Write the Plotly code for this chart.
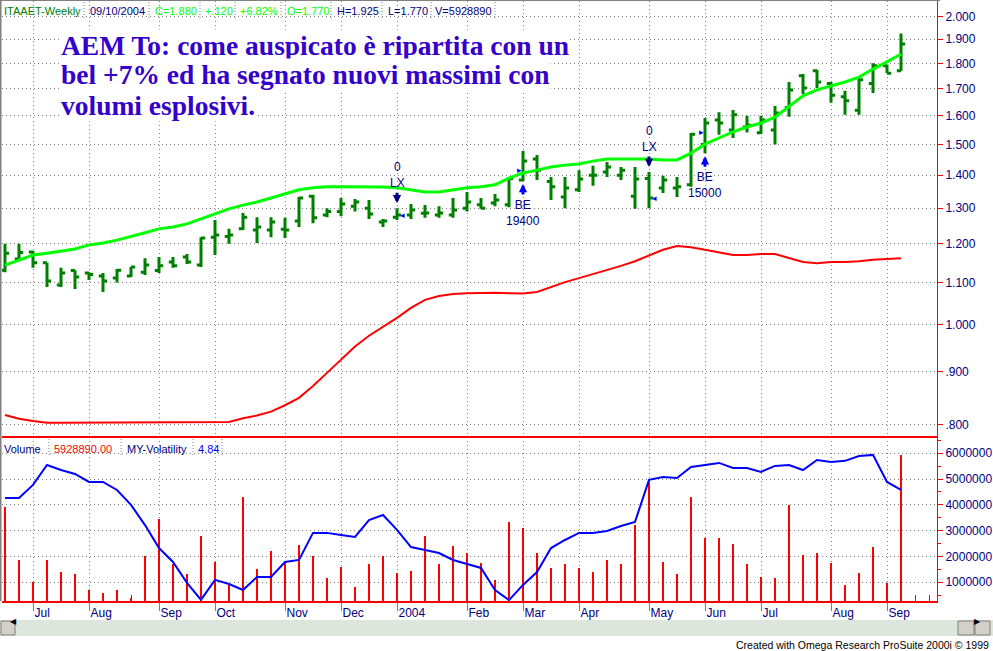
import numpy as np
import pandas as pd
import plotly.graph_objects as go

# ---------------- data ----------------
bar_dates = pd.date_range("2003-06-20", periods=65, freq="7D")

price_open = [1.131, 1.160, 1.178, 1.150, 1.094, 1.130, 1.124, 1.116, 1.111, 1.116,
              1.126, 1.130, 1.152, 1.165, 1.144, 1.218, 1.220, 1.241, 1.238, 1.238,
              1.240, 1.263, 1.335, 1.280, 1.290, 1.306, 1.300, 1.260, 1.274, 1.280,
              1.285, 1.280, 1.280, 1.300, 1.310, 1.315, 1.310, 1.385, 1.452, 1.380,
              1.333, 1.355, 1.400, 1.410, 1.400, 1.335, 1.390, 1.360, 1.360, 1.370,
              1.500, 1.585, 1.550, 1.560, 1.540, 1.550, 1.630, 1.750, 1.770, 1.720,
              1.670, 1.620, 1.720, 1.790, 1.770]
price_high = [1.200, 1.200, 1.181, 1.150, 1.137, 1.131, 1.126, 1.124, 1.134, 1.139,
              1.162, 1.165, 1.165, 1.173, 1.218, 1.266, 1.241, 1.286, 1.274, 1.274,
              1.272, 1.333, 1.340, 1.300, 1.330, 1.327, 1.324, 1.269, 1.300, 1.312,
              1.309, 1.306, 1.330, 1.348, 1.330, 1.342, 1.394, 1.478, 1.465, 1.394,
              1.394, 1.416, 1.430, 1.442, 1.426, 1.426, 1.410, 1.398, 1.394, 1.539,
              1.592, 1.613, 1.621, 1.600, 1.600, 1.635, 1.726, 1.757, 1.773, 1.726,
              1.692, 1.741, 1.800, 1.795, 1.925]
price_low = [1.126, 1.157, 1.137, 1.089, 1.089, 1.084, 1.106, 1.077, 1.100, 1.114,
             1.119, 1.124, 1.137, 1.147, 1.139, 1.170, 1.200, 1.238, 1.202, 1.218,
             1.216, 1.246, 1.257, 1.274, 1.277, 1.290, 1.269, 1.246, 1.266, 1.269,
             1.272, 1.272, 1.272, 1.290, 1.298, 1.306, 1.303, 1.382, 1.385, 1.324,
             1.300, 1.348, 1.367, 1.394, 1.385, 1.298, 1.300, 1.345, 1.333, 1.364,
             1.471, 1.533, 1.522, 1.541, 1.537, 1.500, 1.596, 1.680, 1.703, 1.647,
             1.604, 1.604, 1.684, 1.760, 1.770]
price_close = [1.175, 1.177, 1.150, 1.104, 1.124, 1.114, 1.120, 1.104, 1.131, 1.139,
               1.144, 1.142, 1.142, 1.152, 1.216, 1.224, 1.224, 1.274, 1.246, 1.260,
               1.238, 1.330, 1.272, 1.290, 1.312, 1.318, 1.283, 1.263, 1.280, 1.295,
               1.286, 1.286, 1.295, 1.318, 1.300, 1.324, 1.390, 1.445, 1.416, 1.364,
               1.360, 1.388, 1.400, 1.426, 1.416, 1.388, 1.330, 1.385, 1.364, 1.535,
               1.574, 1.574, 1.604, 1.566, 1.585, 1.610, 1.695, 1.703, 1.726, 1.675,
               1.655, 1.735, 1.790, 1.760, 1.880]

upper_line = [1.144, 1.157, 1.170, 1.175, 1.181, 1.186, 1.197, 1.202, 1.210, 1.221,
              1.230, 1.241, 1.246, 1.255, 1.269, 1.283, 1.298, 1.309, 1.318, 1.330,
              1.342, 1.355, 1.361, 1.364, 1.364, 1.364, 1.364, 1.363, 1.361, 1.355,
              1.348, 1.348, 1.355, 1.361, 1.364, 1.370, 1.391, 1.407, 1.416, 1.426,
              1.432, 1.436, 1.445, 1.452, 1.452, 1.452, 1.452, 1.449, 1.449, 1.471,
              1.501, 1.522, 1.543, 1.560, 1.574, 1.595, 1.632, 1.673, 1.696, 1.711,
              1.726, 1.745, 1.777, 1.806, 1.838]
lower_line = [0.817, 0.810, 0.806, 0.803, 0.803, 0.803, 0.803, 0.803, 0.803, 0.803,
              0.803, 0.803, 0.803, 0.803, 0.803, 0.803, 0.804, 0.811, 0.816, 0.823,
              0.835, 0.849, 0.872, 0.898, 0.926, 0.953, 0.976, 0.996, 1.016, 1.039,
              1.058, 1.067, 1.072, 1.074, 1.075, 1.075, 1.074, 1.073, 1.077, 1.089,
              1.101, 1.111, 1.121, 1.131, 1.142, 1.154, 1.168, 1.184, 1.194, 1.191,
              1.184, 1.176, 1.170, 1.170, 1.173, 1.173, 1.162, 1.152, 1.149, 1.152,
              1.152, 1.154, 1.158, 1.160, 1.162]

volume = [3900000, 1860000, 1000000, 1860000, 1400000, 1300000, 700000, 600000, 700000, 400000,
          2000000, 3450000, 1700000, 1300000, 2800000, 1800000, 900000, 4300000, 1500000, 2200000,
          1750000, 2450000, 2000000, 1150000, 1600000, 800000, 1700000, 2000000, 1350000, 1450000,
          2800000, 1700000, 2400000, 2150000, 1750000, 1100000, 3350000, 3100000, 2150000, 1550000,
          1700000, 1550000, 1400000, 1850000, 1700000, 3200000, 4900000, 1800000, 1300000, 4300000,
          2700000, 2700000, 2500000, 1700000, 1200000, 1150000, 4000000, 2050000, 2150000, 1750000,
          900000, 1350000, 2350000, 950000, 5928890]

volatility = [4.49, 4.49, 5.06, 5.93, 5.71, 5.54, 5.19, 5.19, 4.84, 4.19,
              3.31, 2.31, 1.70, 0.79, 0.05, 0.92, 0.74, 0.48, 1.05, 1.05,
              1.70, 1.79, 2.97, 2.97, 2.88, 2.79, 3.53, 3.75, 3.10, 2.35,
              2.22, 2.09, 1.79, 1.61, 1.44, 0.48, 0.04, 0.70, 1.26, 2.31,
              2.66, 2.97, 2.97, 3.05, 3.27, 3.45, 5.28, 5.41, 5.36, 5.84,
              5.93, 6.02, 5.80, 5.80, 5.63, 5.89, 5.93, 5.71, 6.15, 6.06,
              6.11, 6.32, 6.37, 5.19, 4.84]

month_ticks = ["2003-07-04", "2003-08-01", "2003-09-05", "2003-10-03", "2003-11-07",
               "2003-12-05", "2004-01-02", "2004-02-06", "2004-03-05", "2004-04-02",
               "2004-05-07", "2004-06-04", "2004-07-02", "2004-08-06", "2004-09-03"]
month_labels = ["Jul", "Aug", "Sep", "Oct", "Nov", "Dec", "2004", "Feb", "Mar", "Apr",
                "May", "Jun", "Jul", "Aug", "Sep"]

price_ticks = [0.8, 0.9, 1.0, 1.1, 1.2, 1.3, 1.4, 1.5, 1.6, 1.7, 1.8, 1.9, 2.0]
price_labels = [".800", ".900", "1.000", "1.100", "1.200", "1.300", "1.400", "1.500",
                "1.600", "1.700", "1.800", "1.900", "2.000"]
volume_ticks = [1000000, 2000000, 3000000, 4000000, 5000000, 6000000]
volume_labels = ["1000000", "2000000", "3000000", "4000000", "5000000", "6000000"]

# signals
exit_bars = [28, 46]
entry_bars = [37, 50]
entry_sizes = ["19400", "15000"]

header_items = [("ITAAET-Weekly", "#008000"), ("09/10/2004", "#000080"),
                ("C=1.880", "#00FF00"), ("+.120", "#00FF00"), ("+6.82%", "#00FF00"),
                ("O=1.770", "#00FF00"), ("H=1.925", "#000080"), ("L=1.770", "#000080"),
                ("V=5928890", "#000080")]
header_x = [2, 88, 153, 203, 238, 285, 335, 386, 433]
vol_header_items = [("Volume", "#000080"), ("5928890.00", "#FF0000"),
                    ("MY-Volatility", "#000080"), ("4.84", "#0000FF")]
vol_header_x = [2, 52, 125, 196]

comment_lines = ["AEM To: come auspicato è ripartita con un",
                 "bel +7% ed ha segnato nuovi massimi con",
                 "volumi esplosivi."]

# ---------------- layout geometry ----------------
W, H = 993, 651
ML, MR, MT, MB = 2, 56, 1, 50
PW = W - ML - MR
PH = H - MT - MB


def px(x):
    return (x - ML) / PW


def py(y):
    return (H - MB - y) / PH


split = py(437)
NAVY = "#000080"
FONT = "Liberation Sans, Arial, sans-serif"

fig = go.Figure()

fig.add_trace(go.Ohlc(
    x=bar_dates, open=price_open, high=price_high, low=price_low, close=price_close,
    increasing=dict(line=dict(color="#008000", width=3)),
    decreasing=dict(line=dict(color="#008000", width=3)),
    tickwidth=0.3, xaxis="x", yaxis="y", hoverinfo="skip"))

fig.add_trace(go.Scatter(x=bar_dates, y=upper_line, mode="lines",
                         line=dict(color="#00FF00", width=3), xaxis="x", yaxis="y",
                         hoverinfo="skip"))
fig.add_trace(go.Scatter(x=bar_dates, y=lower_line, mode="lines",
                         line=dict(color="#FF0000", width=2), xaxis="x", yaxis="y",
                         hoverinfo="skip"))

fig.add_trace(go.Bar(x=bar_dates, y=volume, width=86400000 * 1.0,
                     marker=dict(color="#FF0000", line=dict(width=0)),
                     xaxis="x", yaxis="y2", hoverinfo="skip"))
fig.add_trace(go.Scatter(x=bar_dates, y=volatility, mode="lines",
                         line=dict(color="#0000FF", width=2), xaxis="x", yaxis="y3",
                         hoverinfo="skip"))

grid = dict(showgrid=True, gridcolor="#808080", gridwidth=1, griddash="1px,3px")

fig.update_layout(
    width=W, height=H,
    margin=dict(l=ML, r=MR, t=MT, b=MB, pad=0),
    paper_bgcolor="white", plot_bgcolor="white",
    showlegend=False, bargap=0,
    font=dict(family=FONT, size=12, color=NAVY),
    xaxis=dict(domain=[0, 1], anchor="y2", type="date",
               range=["2003-06-18 12:00", "2004-09-28"],
               tickvals=month_ticks, ticktext=month_labels,
               ticks="outside", ticklen=8, tickcolor="#808080", tickwidth=1,
               ticklabelposition="outside right",
               tickfont=dict(family=FONT, size=12, color=NAVY),
               showline=True, linecolor="#FF0000", linewidth=2,
               zeroline=False, rangeslider=dict(visible=False),
               minor=dict(ticks="inside", ticklen=6, tickcolor="#FF0000", tickwidth=1,
                          dtick=7 * 86400000, tick0="2003-06-20", showgrid=False),
               **grid),
    yaxis=dict(domain=[split, 1], anchor="x", type="log", side="right",
               range=[np.log10(0.7775), np.log10(2.0705)],
               tickvals=price_ticks, ticktext=price_labels,
               ticks="outside", ticklen=5, tickcolor="#FF0000",
               showline=True, linecolor="#FF0000", linewidth=1,
               tickfont=dict(family=FONT, size=12, color=NAVY),
               zeroline=False, **grid),
    yaxis2=dict(domain=[0, split], anchor="x", side="right",
                range=[271000, 6628000],
                tickvals=volume_ticks, ticktext=volume_labels,
                ticks="outside", ticklen=5, tickcolor="#FF0000",
                showline=True, linecolor="#FF0000", linewidth=1,
                tickfont=dict(family=FONT, size=12, color=NAVY),
                minor=dict(ticks="outside", ticklen=3, tickcolor="#FF0000",
                           dtick=500000, tick0=0, showgrid=False),
                zeroline=False, **grid),
    yaxis3=dict(overlaying="y2", anchor="x", side="right", range=[0, 7.15],
                visible=False, showgrid=False, zeroline=False),
)

annotations = []
shapes = []

# header texts
for (txt, col), x0 in zip(header_items, header_x):
    annotations.append(dict(xref="paper", yref="paper", x=px(x0), y=py(11),
                            xanchor="left", yanchor="middle", text=txt, showarrow=False,
                            font=dict(family=FONT, size=11, color=col)))
for xs in [84, 149, 200, 235, 281, 331, 382, 431, 495]:
    shapes.append(dict(type="line", xref="paper", yref="paper", x0=px(xs), x1=px(xs),
                       y0=py(2), y1=py(19), line=dict(color="#808080", width=1, dash="1px,2px")))

for (txt, col), x0 in zip(vol_header_items, vol_header_x):
    annotations.append(dict(xref="paper", yref="paper", x=px(x0), y=py(449),
                            xanchor="left", yanchor="middle", text=txt, showarrow=False,
                            font=dict(family=FONT, size=11, color=col)))
for xs in [49, 121, 193, 222]:
    shapes.append(dict(type="line", xref="paper", yref="paper", x0=px(xs), x1=px(xs),
                       y0=py(439), y1=py(456), line=dict(color="#808080", width=1, dash="1px,2px")))

# commentary
for i, line in enumerate(comment_lines):
    annotations.append(dict(
        xref="paper", yref="paper", x=px(60), y=py(45 + 30 * i), xanchor="left",
        yanchor="middle", align="left", showarrow=False, bgcolor="white", borderpad=0,
        text="<b>" + line + "</b>",
        font=dict(family="Liberation Serif, Times New Roman, serif", size=27.5,
                  color="#3300CC")))

# exit signals (LX)
for b in exit_bars:
    yv = np.log10(price_high[b])
    annotations.append(dict(x=bar_dates[b], y=yv, xref="x", yref="y", text="",
                            showarrow=True, arrowhead=2, arrowsize=0.55, arrowwidth=3,
                            arrowcolor=NAVY, ax=0, ay=-12, yshift=5))
    annotations.append(dict(x=bar_dates[b], y=yv, xref="x", yref="y",
                            text="0<br>LX", showarrow=False, yanchor="bottom", yshift=16,
                            font=dict(family=FONT, size=12, color=NAVY)))
    annotations.append(dict(x=bar_dates[b], y=np.log10(price_close[b]), xref="x", yref="y",
                            text="◂", showarrow=False, xshift=5,
                            font=dict(family="DejaVu Sans", size=9, color="#0000FF")))

# entry signals (BE)
for b, sz in zip(entry_bars, entry_sizes):
    yv = np.log10(price_low[b])
    annotations.append(dict(x=bar_dates[b], y=yv, xref="x", yref="y", text="",
                            showarrow=True, arrowhead=2, arrowsize=0.55, arrowwidth=3,
                            arrowcolor="#0000FF", ax=0, ay=12, yshift=-3))
    annotations.append(dict(x=bar_dates[b], y=yv, xref="x", yref="y",
                            text="BE<br>" + sz, showarrow=False, yanchor="top", yshift=-15,
                            font=dict(family=FONT, size=12, color=NAVY)))
    annotations.append(dict(x=bar_dates[b], y=np.log10(price_close[b] - 0.03), xref="x", yref="y",
                            text="▸", showarrow=False, xshift=-4,
                            font=dict(family="DejaVu Sans", size=9, color="#0000FF")))

# credit
annotations.append(dict(xref="paper", yref="paper", x=px(991), y=py(645), xanchor="right",
                        yanchor="middle", showarrow=False,
                        text="Created with Omega Research ProSuite 2000i © 1999",
                        font=dict(family=FONT, size=10.5, color="black")))

# panel separator and frame
shapes.append(dict(type="line", xref="paper", yref="paper", x0=0, x1=1, y0=split, y1=split,
                   line=dict(color="#FF0000", width=2)))
shapes.append(dict(type="line", xref="paper", yref="paper", x0=px(0.5), x1=px(0.5),
                   y0=py(0), y1=py(601), line=dict(color="#808080", width=2)))
shapes.append(dict(type="line", xref="paper", yref="paper", x0=px(0), x1=px(940),
                   y0=py(0.5), y1=py(0.5), line=dict(color="#808080", width=1)))

# scrollbar
shapes.append(dict(type="rect", xref="paper", yref="paper", x0=px(0), x1=px(993),
                   y0=py(620), y1=py(636), fillcolor="#DCE6DC", line=dict(width=0), layer="below"))
for x0, x1 in [(1, 15), (958, 974), (975, 990)]:
    shapes.append(dict(type="rect", xref="paper", yref="paper", x0=px(x0), x1=px(x1),
                       y0=py(621), y1=py(635), fillcolor="#D4D0C8",
                       line=dict(color="#808080", width=1)))
annotations.append(dict(xref="paper", yref="paper", x=px(8), y=py(628), text="◀",
                        showarrow=False, font=dict(family="DejaVu Sans", size=8, color="black")))
annotations.append(dict(xref="paper", yref="paper", x=px(983), y=py(628), text="▶",
                        showarrow=False, font=dict(family="DejaVu Sans", size=8, color="black")))

fig.update_layout(annotations=annotations, shapes=shapes)
fig.write_html("out.html", config={"displayModeBar": False},
               post_script="document.body.style.margin='0';document.body.style.overflow='hidden';")
